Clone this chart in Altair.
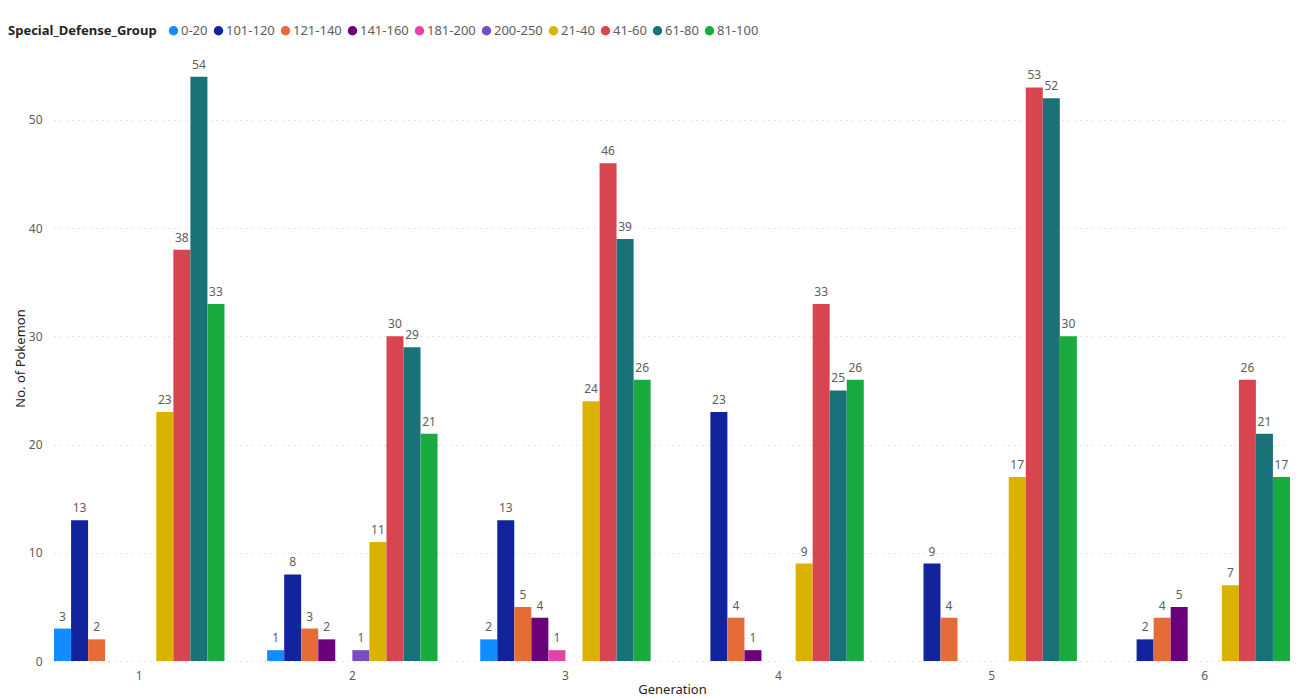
import altair as alt
import pandas as pd

generations = ["1", "2", "3", "4", "5", "6"]
groups = [
    "0-20", "101-120", "121-140", "141-160", "181-200",
    "200-250", "21-40", "41-60", "61-80", "81-100",
]
colors = [
    "#118DFF", "#12239E", "#E66C37", "#6B007B", "#E044A7",
    "#744EC2", "#D9B300", "#D64550", "#197278", "#1AAB40",
]

# pokemon counts per group, one value per generation 1..6
g_0_20 = [3, 1, 2, 0, 0, 0]
g_101_120 = [13, 8, 13, 23, 9, 2]
g_121_140 = [2, 3, 5, 4, 4, 4]
g_141_160 = [0, 2, 4, 1, 0, 5]
g_181_200 = [0, 0, 1, 0, 0, 0]
g_200_250 = [0, 1, 0, 0, 0, 0]
g_21_40 = [23, 11, 24, 9, 17, 7]
g_41_60 = [38, 30, 46, 33, 53, 26]
g_61_80 = [54, 29, 39, 25, 52, 21]
g_81_100 = [33, 21, 26, 26, 30, 17]

series = [g_0_20, g_101_120, g_121_140, g_141_160, g_181_200,
          g_200_250, g_21_40, g_41_60, g_61_80, g_81_100]

rows = []
for grp, vals in zip(groups, series):
    for gen, v in zip(generations, vals):
        rows.append({"Generation": gen, "Group": grp, "Count": v})
df = pd.DataFrame(rows)

FONT = "Segoe UI, Noto Sans, sans-serif"

base = alt.Chart(df).transform_filter(alt.datum.Count > 0).encode(
    x=alt.X(
        "Generation:N",
        sort=generations,
        title="Generation",
        scale=alt.Scale(paddingInner=0.2, paddingOuter=0),
        axis=alt.Axis(
            labelAngle=0, ticks=False, domain=False, labelPadding=9,
            labelFontSize=12, labelColor="#605E5C", labelFont=FONT,
            titleFont=FONT, titleFontSize=13, titleFontWeight="normal",
            titleColor="#252423", titlePadding=2,
        ),
    ),
    xOffset=alt.XOffset("Group:N", scale=alt.Scale(domain=groups, paddingInner=0, paddingOuter=0)),
    y=alt.Y(
        "Count:Q",
        title="No. of Pokemon",
        scale=alt.Scale(domain=[0, 56], nice=False),
        axis=alt.Axis(
            values=[0, 10, 20, 30, 40, 50], ticks=False, domain=False,
            labelPadding=12, labelFontSize=12, labelColor="#605E5C", labelFont=FONT,
            gridColor="#C8C6C4", gridDash=[1, 5], gridWidth=1,
            titleFont=FONT, titleFontSize=13, titleFontWeight="normal",
            titleColor="#252423", titlePadding=1,
        ),
    ),
)

bars = base.mark_bar(size=17).encode(
    color=alt.Color(
        "Group:N",
        scale=alt.Scale(domain=groups, range=colors),
        legend=alt.Legend(
            title="Special_Defense_Group", orient="none", direction="horizontal",
            legendX=-46, legendY=-31, titleOrient="left", titleFont=FONT,
            titleFontSize=13, titleFontWeight="bold", titleColor="#252423",
            titlePadding=10, labelFont=FONT, labelFontSize=13, labelColor="#605E5C",
            symbolType="circle", symbolSize=90, symbolStrokeWidth=0,
            labelOffset=1, columnPadding=4, symbolOpacity=1,
        ),
    ),
)

labels = base.mark_text(
    baseline="bottom", dy=-5, fontSize=12, font=FONT, color="#605E5C"
).encode(text="Count:Q")

chart = (
    alt.layer(bars, labels)
    .properties(
        width=1236, height=606,
        autosize=alt.AutoSizeParams(type="none"),
        padding={"left": 46, "top": 47, "right": 10, "bottom": 37},
    )
    .configure_view(stroke=None)
)

chart.save("out.html", embed_options={"renderer": "svg", "actions": False})
